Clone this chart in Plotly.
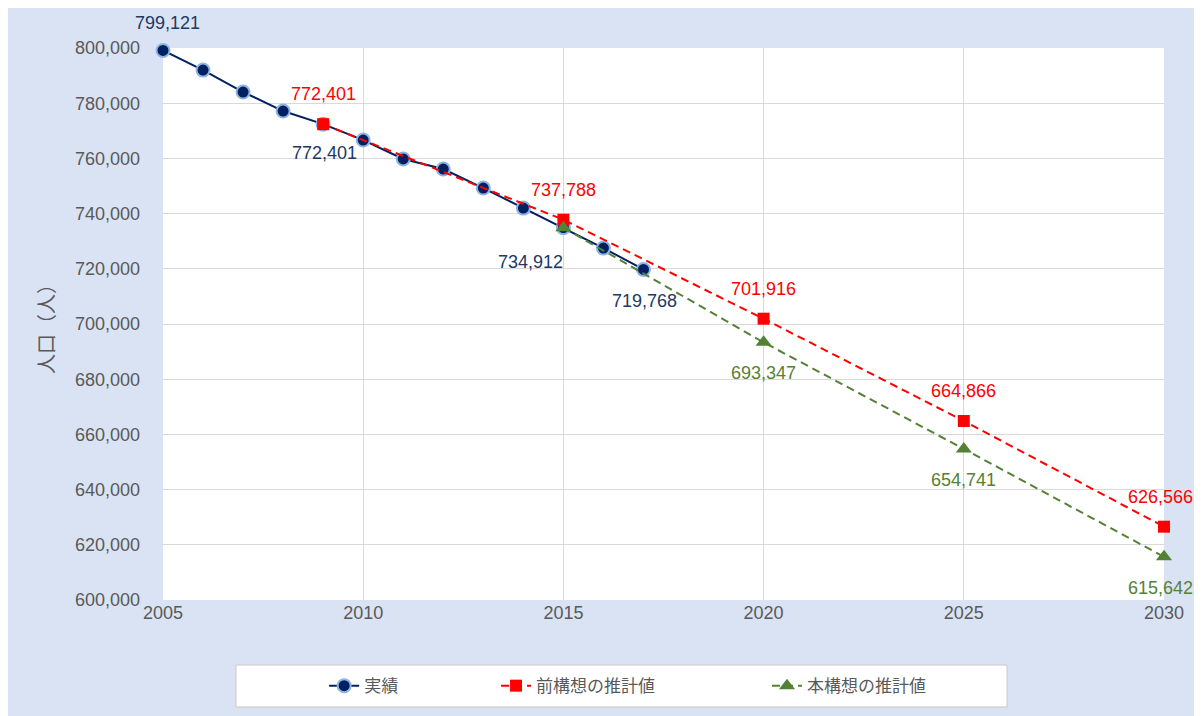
import plotly.graph_objects as go

# ---- data ----
years_actual = [2005, 2006, 2007, 2008, 2009, 2010, 2011, 2012, 2013, 2014, 2015, 2016, 2017]
pop_actual = [799121, 792000, 784050, 777150, 772401, 766650, 759800, 756150, 749250, 742000, 734912, 727500, 719768]

years_prev = [2009, 2015, 2020, 2025, 2030]
pop_prev = [772401, 737788, 701916, 664866, 626566]

years_new = [2015, 2020, 2025, 2030]
pop_new = [734912, 693347, 654741, 615642]

names = ["実績", "前構想の推計値", "本構想の推計値"]
y_title = "人口（人）"

# labelled points
lab_actual_years = [2005, 2009, 2015, 2017]
lab_new_years = [2020, 2025, 2030]

NAVY = "#002060"
RED = "#FF0000"
GREEN = "#548235"
GRAY = "#595959"
BG = "#DAE3F3"
FONT = "Liberation Sans, Noto Sans CJK JP, sans-serif"
JFONT = "Noto Sans CJK JP, sans-serif"

fig = go.Figure()
fig.add_trace(go.Scatter(
    x=years_actual, y=pop_actual, name=names[0], mode="lines+markers",
    line=dict(color=NAVY, width=2),
    marker=dict(symbol="circle", size=13, color=NAVY, line=dict(color="#8FB4E3", width=2)),
    cliponaxis=False, legend="legend"))
fig.add_trace(go.Scatter(
    x=years_prev, y=pop_prev, name=names[1], mode="lines+markers",
    line=dict(color=RED, width=2, dash="8px,5px"),
    marker=dict(symbol="square", size=12, color=RED),
    cliponaxis=False, legend="legend2"))
fig.add_trace(go.Scatter(
    x=years_new, y=pop_new, name=names[2], mode="lines+markers",
    line=dict(color=GREEN, width=2, dash="8px,5px"),
    marker=dict(symbol="triangle-up", size=14, color=GREEN),
    cliponaxis=False, legend="legend3"))

annotations = []
def lab(x, y, color, dx, dy):
    annotations.append(dict(x=x, y=y, text=f"{y:,}", showarrow=False, xshift=dx, yshift=dy,
                            font=dict(color=color, size=18, family=FONT)))

act_offsets = {2005: (4, 27), 2009: (1, -29), 2015: (-33, -34), 2017: (1, -32)}
for yr in lab_actual_years:
    v = pop_actual[years_actual.index(yr)]
    dx, dy = act_offsets[yr]
    lab(yr, v, "#203864", dx, dy)
for yr, v in zip(years_prev, pop_prev):
    lab(yr, v, RED, -4 if yr == 2030 else 0, 30)
for yr in lab_new_years:
    v = pop_new[years_new.index(yr)]
    lab(yr, v, GREEN, -4 if yr == 2030 else 0, -31)

# legend frame
shapes = [dict(type="rect", xref="paper", yref="paper", x0=0.0729, x1=0.8432, y0=-0.1938, y1=-0.1178,
               fillcolor="white", line=dict(color="#C8C8C8", width=1), layer="below")]

leg_common = dict(orientation="h", yanchor="middle", xanchor="left", y=-0.156,
                  bgcolor="rgba(0,0,0,0)", borderwidth=0,
                  font=dict(size=17, color=GRAY, family=JFONT))

fig.update_layout(
    width=1202, height=716,
    margin=dict(l=155, r=46, t=40, b=124),
    paper_bgcolor=BG, plot_bgcolor="white",
    font=dict(family=FONT, color=GRAY, size=17),
    showlegend=True,
    legend=dict(x=0.161, **leg_common),
    legend2=dict(x=0.3327, **leg_common),
    legend3=dict(x=0.6034, **leg_common),
    annotations=annotations,
    shapes=shapes,
    xaxis=dict(range=[2005, 2030], tickvals=[2005, 2010, 2015, 2020, 2025, 2030],
               showgrid=True, gridcolor="#D9D9D9", gridwidth=1, zeroline=False,
               showline=False, ticks="", tickfont=dict(size=18, color=GRAY)),
    yaxis=dict(range=[600000, 800000], dtick=20000, tickformat=",",
               showgrid=True, gridcolor="#D9D9D9", gridwidth=1, zeroline=False,
               showline=False, ticks="", ticklabelstandoff=22, tickfont=dict(size=18, color=GRAY),
               title=dict(text=y_title, font=dict(size=20, color=GRAY, family=JFONT),
                          standoff=14)),
)

fig.write_html("out.html")
